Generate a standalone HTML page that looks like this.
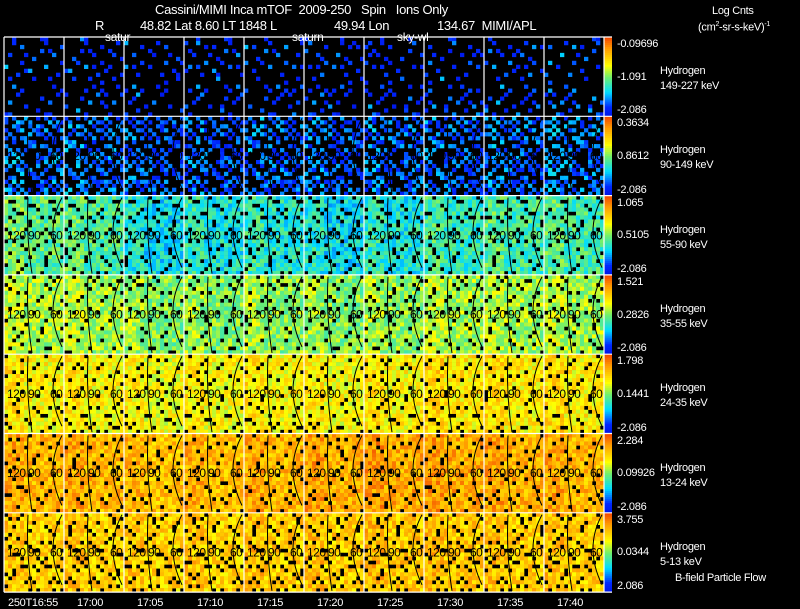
<!DOCTYPE html>
<html><head><meta charset="utf-8">
<style>
html,body{margin:0;padding:0;background:#000;}
#root{position:relative;width:800px;height:609px;background:#000;overflow:hidden;font-family:"Liberation Sans",sans-serif;color:#fff;}
.t{position:absolute;white-space:nowrap;font-size:12px;line-height:12px;letter-spacing:-0.3px;}
svg{position:absolute;left:0;top:0;}
</style></head>
<body>
<div id="root">
<svg id="chart" width="800" height="609"></svg>
<div class="t" style="left:155px;top:4px;font-size:13px">Cassini/MIMI Inca mTOF&nbsp; 2009-250 &nbsp; Spin &nbsp; Ions Only</div>
<div class="t" style="left:95px;top:20px;font-size:13px">R</div>
<div class="t" style="left:140px;top:20px;font-size:13px">48.82 Lat 8.60 LT 1848 L</div>
<div class="t" style="left:334px;top:20px;font-size:13px">49.94 Lon</div>
<div class="t" style="left:437px;top:20px;font-size:13px">134.67&nbsp; MIMI/APL</div>
<div class="t" style="left:105px;top:31px">satur</div>
<div class="t" style="left:292px;top:31px">saturn</div>
<div class="t" style="left:397px;top:31px">sky-wl</div>
<div class="t" style="left:712px;top:5px;font-size:11px">Log Cnts</div>
<div class="t" style="left:698px;top:19px;font-size:11px">(cm<sup style="font-size:7px">2</sup>-sr-s-keV)<sup style="font-size:7px">-1</sup></div>
<div class="t" style="left:675px;top:572px;font-size:11px">B-field Particle Flow</div>
<div id="labels"></div>
</div>
<script>
const rowNames = ["149-227 keV","90-149 keV","55-90 keV","35-55 keV","24-35 keV","13-24 keV","5-13 keV"];
const cbTop = ["-0.09696","0.3634","1.065","1.521","1.798","2.284","3.755"];
const cbMid = ["-1.091","0.8612","0.5105","0.2826","0.1441","0.09926","0.0344"];
const cbBot = ["-2.086","-2.086","-2.086","-2.086","-2.086","-2.086","2.086"];
const timeLabels = ["250T16:55","17:00","17:05","17:10","17:15","17:20","17:25","17:30","17:35","17:40"];
// mean colour level (0..1) per row, per panel column
const level0 = [0.24,0.24,0.22,0.23,0.23,0.22,0.22,0.23,0.23,0.24];
const level1 = [0.27,0.27,0.24,0.24,0.25,0.24,0.25,0.25,0.26,0.27];
const level2 = [0.48,0.46,0.38,0.4,0.41,0.38,0.4,0.43,0.45,0.45];
const level3 = [0.56,0.55,0.52,0.52,0.53,0.52,0.53,0.55,0.55,0.55];
const level4 = [0.65,0.65,0.63,0.64,0.65,0.64,0.65,0.67,0.66,0.66];
const level5 = [0.75,0.75,0.73,0.74,0.75,0.76,0.77,0.77,0.76,0.75];
const level6 = [0.7,0.7,0.7,0.7,0.71,0.71,0.72,0.72,0.71,0.71];
const levels = [level0,level1,level2,level3,level4,level5,level6];
// fraction of cells with data per row
const fill = [0.14,0.42,0.84,0.86,0.87,0.88,0.82];
// fixed texture pattern (digits 0-9)
const texture = [
"3719264850173926","8204617395028461","5936081742539607","1482753960418275",
"7065319248760531","2951486073295148","6387025914638702","0518974362051897",
"4273610589427361","9640852137964085","3157498026315749","8829163574882916",
"5603927481560392","1374058692137405","7290516843729051","4918273650491827",
"6045139287604513","2786904315278690","9531768402953176","0162435978016243"];

const X0=4, PW=60, Y0=37, PH=79.3, NC=15, NR=20;
const svg=document.getElementById('chart');
const NS='http://www.w3.org/2000/svg';
function xScale(c){return X0+c*PW;}
function yScale(r){return Y0+r*PH;}
const stops=[[0,0,0,200],[0.2,0,40,255],[0.35,0,220,255],[0.5,110,240,110],[0.62,255,255,0],[0.8,255,150,0],[1,230,0,0]];
function cmap(t){t=Math.max(0,Math.min(1,t));for(let i=1;i<stops.length;i++){if(t<=stops[i][0]){const a=stops[i-1],b=stops[i];const f=(t-a[0])/(b[0]-a[0]);return `rgb(${Math.round(a[1]+f*(b[1]-a[1]))},${Math.round(a[2]+f*(b[2]-a[2]))},${Math.round(a[3]+f*(b[3]-a[3]))})`;}}return 'rgb(230,0,0)';}
function mk(tag,attrs){const e=document.createElementNS(NS,tag);for(const k in attrs)e.setAttribute(k,attrs[k]);svg.appendChild(e);return e;}
for(let r=0;r<7;r++){
  for(let c=0;c<10;c++){
    const px=xScale(c), py=yScale(r), cw=PW/NC, ch=PH/NR;
    for(let j=0;j<NR;j++){
      for(let i=0;i<NC;i++){
        const d=+texture[(j+r*3)%20][(i+c*5+r)%16];
        const d2=+texture[(j*7+c)%20][(i+r*2)%16];
        if(((d*10+d2)/100)>=fill[r]) continue;
        const v=levels[r][c]+(d2-4.5)*0.018+(i<5?0.02:-0.01);
        const e=mk('rect',{x:(px+i*cw).toFixed(2),y:(py+j*ch).toFixed(2),width:(cw+0.3).toFixed(2),height:(ch+0.3).toFixed(2),fill:cmap(v)});
        
        
      }
    }
    if(r>0){
      const p1=mk('path',{d:`M${px+24} ${py+2} Q${px+22} ${py+40} ${px+28} ${py+78}`,stroke:'#000',fill:'none','stroke-width':1});
      
      
      const p2=mk('path',{d:`M${px+58} ${py+2} Q${px+40} ${py+35} ${px+58} ${py+72}`,stroke:'#000',fill:'none','stroke-width':1});
      
      
      const labs=[["120",3],["90",24],["60",46]];
      for(const [s,ox] of labs){
        const t=mk('text',{x:px+ox,y:py+PH/2+4,fill:'#000','font-size':12,'font-family':'Liberation Sans, sans-serif','letter-spacing':'-0.5'});
        t.textContent=s;
        
        
      }
    }
  }
  const cy=yScale(r);
  for(let k=0;k<40;k++){
    const e=mk('rect',{x:604,y:(cy+k*PH/40).toFixed(2),width:8,height:(PH/40+0.4).toFixed(2),fill:cmap(1-k/40*0.8-0.1)});
    
    
  }
}
for(let c=0;c<=10;c++){const l=mk('line',{x1:xScale(c),y1:Y0,x2:xScale(c),y2:yScale(7),stroke:'#fff','stroke-width':1.2});}
for(let r=0;r<=7;r++){const l=mk('line',{x1:X0,y1:yScale(r),x2:612,y2:yScale(r),stroke:'#fff','stroke-width':1.2});}
const lab=document.getElementById('labels');
function addText(s,x,y,name,extra){const d=document.createElement('div');d.className='t';d.style.left=x+'px';d.style.top=y+'px';if(extra)d.style.cssText+=extra;d.textContent=s;lab.appendChild(d);}
for(let r=0;r<7;r++){
  const y=yScale(r);
  addText(cbTop[r],617,y+1,'colorbar-max','font-size:11px');
  addText(cbMid[r],617,y+PH/2-6,'colorbar-mid','font-size:11px');
  addText(cbBot[r],617,y+PH-12,'colorbar-min','font-size:11px');
  addText('Hydrogen',660,y+28,'species-label','font-size:11px');
  addText(rowNames[r],660,y+43,'energy-label','font-size:11px');
}
for(let c=0;c<10;c++){
  addText(timeLabels[c],c===0?8:xScale(c)+13,597,'time-tick-label','font-size:11px');
}
</script>
</body></html>
